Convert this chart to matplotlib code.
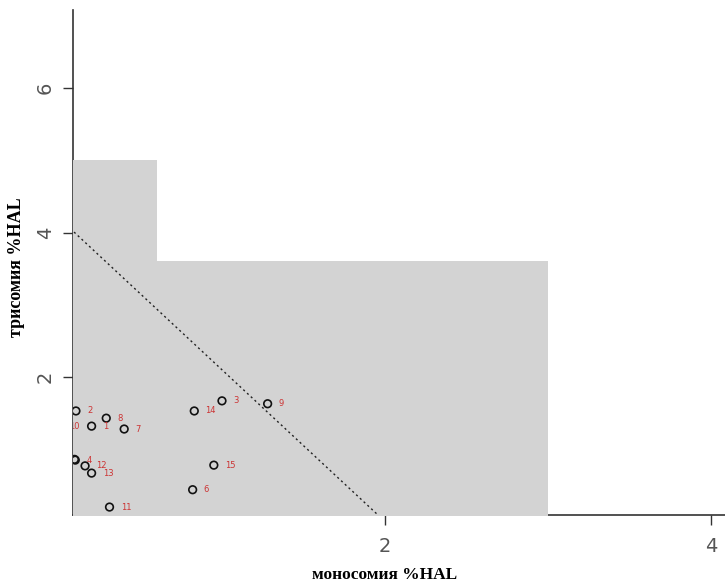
import matplotlib
matplotlib.use('Agg')
import matplotlib.pyplot as plt
from matplotlib.transforms import offset_copy

# points: monosomy (x), trisomy (y), sample number
mono = [0.20, 0.104, 1.00, 0.10, 0.095, 0.82, 0.40, 0.29, 1.28, -0.005, 0.31, 0.16, 0.20, 0.83, 0.95]
tri = [1.32, 1.53, 1.67, 0.85, 0.86, 0.44, 1.28, 1.43, 1.63, 1.32, 0.20, 0.77, 0.67, 1.53, 0.78]
labels = ['1', '2', '3', '4', '', '6', '7', '8', '9', '10', '11', '12', '13', '14', '15']

# grey reference zone (step outline) and the dashed boundary
zone_x = [0.0, 0.6, 3.0]
zone_y = [5.0, 3.6, 3.6]
line_x = [0.0, 2.0]
line_y = [4.2, 0.0]

x_ticks = [2, 4]
y_ticks = [2, 4, 6]

fig = plt.figure(figsize=(7.25, 5.86), dpi=100)
ax = fig.add_axes([73 / 725, 71 / 586, 652 / 725, 505 / 586])

ax.fill_between(zone_x, zone_y, 0, step='post', color='#d3d3d3', lw=0, zorder=3)
ax.plot(line_x, line_y, color='#222222', lw=1.0, ls=(0, (1.5, 2.2)), zorder=4)
ax.scatter(mono, tri, s=30, facecolors='none', edgecolors='#111111', linewidths=1.2, zorder=5)

# labels sit to the right of each point, clipped at the axes like in R
shifted = offset_copy(ax.transData, fig=fig, x=8, y=0, units='points')
for x, y, lab in zip(mono, tri, labels):
    t = ax.text(x, y, lab, transform=shifted, color='#cc3333', fontsize=6,
                va='center', ha='left', zorder=6)
    t.set_clip_box(ax.bbox)
    t.set_clip_on(True)

ax.set_xlim(0.086, 4.086)
ax.set_ylim(0.09, 7.08)
ax.set_xticks(x_ticks)
ax.set_yticks(y_ticks)
ax.spines['top'].set_visible(False)
ax.spines['right'].set_visible(False)
for s in ['left', 'bottom']:
    ax.spines[s].set_color('#333333')
    ax.spines[s].set_linewidth(1.2)
    ax.spines[s].set_zorder(1)
ax.tick_params(length=7, width=1, color='#333333', labelsize=14, labelcolor='#555555')
ax.tick_params(axis='x', pad=9)
ax.tick_params(axis='y', pad=6)
for t in ax.get_yticklabels():
    t.set_rotation(90)
    t.set_va('center')

ax.set_xlabel('моносомия %HAL', family='Liberation Serif', fontweight='bold', fontsize=12.5)
ax.set_ylabel('трисомия %HAL', family='Liberation Serif', fontweight='bold', fontsize=13)
ax.xaxis.set_label_coords((385 - 73) / 652, -0.102)
ax.yaxis.set_label_coords(-0.074, 0.49)

fig.savefig('out.png', dpi=100)
